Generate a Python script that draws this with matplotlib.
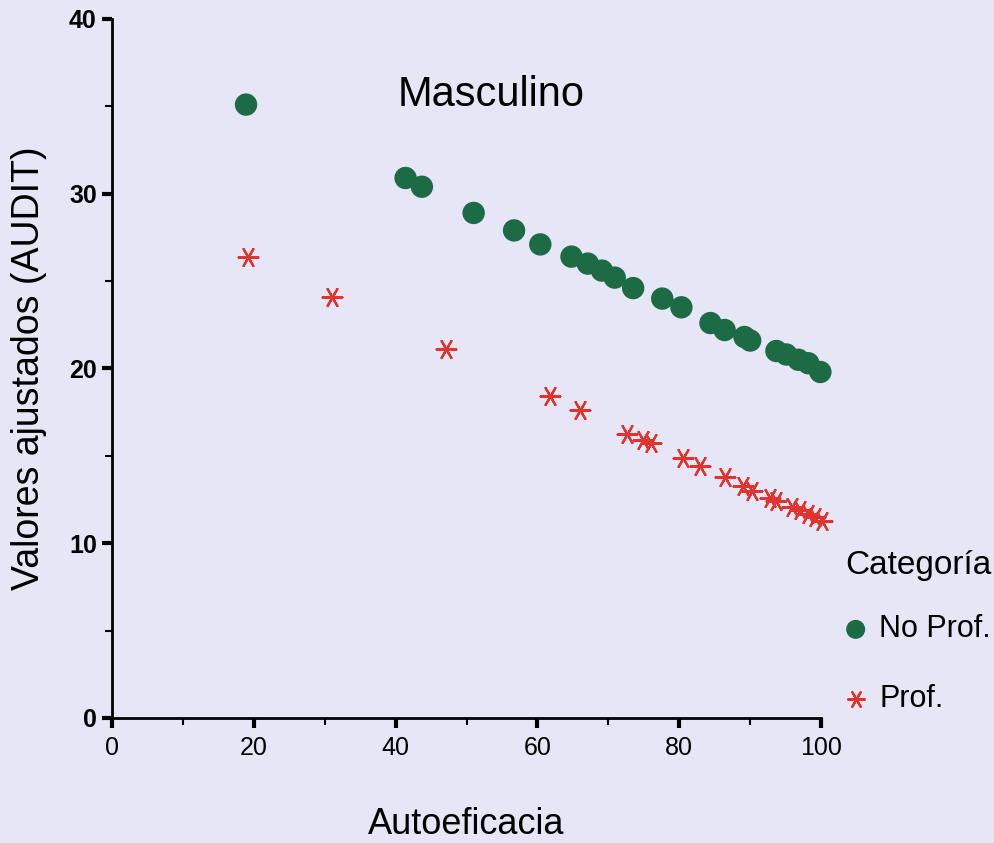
import matplotlib.pyplot as plt
from matplotlib.ticker import MultipleLocator

plt.rcParams['font.family'] = ['Liberation Sans Narrow', 'Liberation Sans', 'DejaVu Sans']

# No Prof. (green dots)
x_noprof = [18.9, 41.4, 43.7, 51.0, 56.7, 60.4, 64.8, 67.1, 69.1, 70.9, 73.5,
            77.6, 80.3, 84.4, 86.4, 89.2, 90.0, 93.7, 95.1, 96.8, 98.2, 99.9]
y_noprof = [35.1, 30.9, 30.4, 28.9, 27.9, 27.1, 26.4, 26.0, 25.6, 25.2, 24.6,
            24.0, 23.5, 22.6, 22.2, 21.8, 21.6, 21.0, 20.8, 20.5, 20.3, 19.8]

# Prof. (red asterisks)
x_prof = [19.2, 31.0, 47.1, 61.8, 66.0, 72.6, 74.9, 76.0, 80.5, 82.9, 86.4,
          89.0, 90.2, 92.8, 93.7, 95.9, 97.0, 98.2, 99.1, 100.1]
y_prof = [26.4, 24.1, 21.1, 18.4, 17.6, 16.25, 15.9, 15.75, 14.9, 14.4, 13.8,
          13.3, 13.0, 12.6, 12.4, 12.1, 11.9, 11.7, 11.5, 11.3]

bg = '#e6e6f7'
green = '#1d6b45'
red = '#e0342e'

fig = plt.figure(figsize=(9.95, 8.43), dpi=100, facecolor=bg)
ax = fig.add_axes([0.1126, 0.1483, 0.7126, 0.8292])
ax.set_facecolor(bg)

ax.scatter(x_noprof, y_noprof, s=260, color=green, edgecolors='none',
           label='No Prof.', zorder=3, clip_on=False)
ax.scatter(x_prof, y_prof, s=200, marker=(6, 2, 90), color=red,
           linewidths=1.6, label='Prof.', zorder=3, clip_on=False)

ax.set_xlim(0, 100)
ax.set_ylim(0, 40)
ax.xaxis.set_major_locator(MultipleLocator(20))
ax.xaxis.set_minor_locator(MultipleLocator(10))
ax.yaxis.set_major_locator(MultipleLocator(10))
ax.yaxis.set_minor_locator(MultipleLocator(5))

for s in ['top', 'right']:
    ax.spines[s].set_visible(False)
for s in ['left', 'bottom']:
    ax.spines[s].set_linewidth(2)

ax.tick_params(which='major', length=7, width=3, labelsize=18)
ax.tick_params(axis='x', which='major', pad=6)
ax.tick_params(axis='y', which='major', pad=4)
ax.tick_params(which='minor', length=5, width=1.5)
for lab in ax.get_yticklabels():
    lab.set_fontweight('bold')

ax.set_xlabel('Autoeficacia', fontsize=26, labelpad=34)
ax.set_ylabel('Valores ajustados (AUDIT)', fontsize=27, labelpad=16)

ax.text(53.5, 35.65, 'Masculino', fontsize=30, ha='center', va='center',
        family=['Liberation Sans', 'DejaVu Sans'])

leg = fig.legend(loc='upper left', bbox_to_anchor=(0.850, 0.348), frameon=False,
                 title='Categoría', title_fontsize=24, fontsize=22,
                 labelspacing=1.3, handletextpad=0.45, handlelength=0.65,
                 borderpad=0, borderaxespad=0, markerscale=0.85,
                 alignment='left')
leg._legend_box.sep = 24.3

fig.savefig('out.png', dpi=100, facecolor=bg)
